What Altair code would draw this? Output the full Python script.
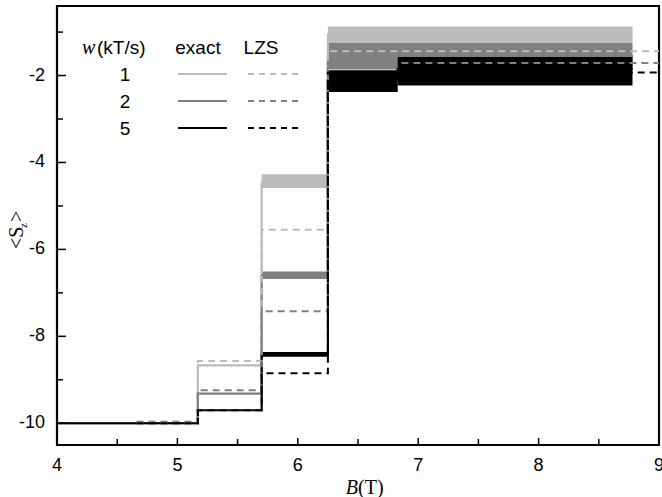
import altair as alt
import pandas as pd

# ---------------- data ----------------
series_w = ["1", "2", "5"]
series_colors = ["#bcbcbc", "#808080", "#000000"]

# exact (solid) step curves: vertices (B, <Sz>)
exact_B_1 = [4.00, 5.17, 5.17, 5.70, 5.70, 6.25, 6.25, 8.78]
exact_S_1 = [-10.0, -10.0, -8.67, -8.67, -4.45, -4.45, -1.06, -1.06]
exact_B_2 = [4.00, 5.17, 5.17, 5.70, 5.70, 6.25, 6.25, 8.78]
exact_S_2 = [-10.0, -10.0, -9.32, -9.32, -6.60, -6.60, -1.55, -1.55]
exact_B_5 = [4.00, 5.17, 5.17, 5.70, 5.70, 6.25, 6.25, 6.83, 6.83, 8.78]
exact_S_5 = [-10.0, -10.0, -9.70, -9.70, -8.42, -8.42, -2.10, -2.10, -1.85, -1.85]

# LZS (dashed) step curves
lzs_B_1 = [4.66, 5.17, 5.17, 5.70, 5.70, 6.25, 6.25, 9.00]
lzs_S_1 = [-9.96, -9.96, -8.57, -8.57, -5.55, -5.55, -1.44, -1.44]
lzs_B_2 = [4.66, 5.17, 5.17, 5.70, 5.70, 6.25, 6.25, 9.00]
lzs_S_2 = [-9.97, -9.97, -9.24, -9.24, -7.42, -7.42, -1.71, -1.71]
lzs_B_5 = [4.66, 5.17, 5.17, 5.70, 5.70, 6.25, 6.25, 9.00]
lzs_S_5 = [-10.0, -10.0, -9.70, -9.70, -8.85, -8.85, -1.93, -1.93]

# fluctuation bands of the exact curves (min / max)
band_w = ["1", "1", "2", "2", "5", "5", "5"]
band_B0 = [5.70, 6.25, 5.70, 6.25, 5.70, 6.25, 6.83]
band_B1 = [6.25, 8.78, 6.25, 8.78, 6.25, 6.83, 8.78]
band_lo = [-4.59, -1.25, -6.68, -1.86, -8.47, -2.38, -2.23]
band_hi = [-4.27, -0.87, -6.51, -1.25, -8.36, -1.88, -1.54]

x_major = [4, 5, 6, 7, 8, 9]
x_labels = ["4", "5", "6", "7", "8", "9"]
x_minor = [4.5, 5.5, 6.5, 7.5, 8.5]
y_major = [-10, -8, -6, -4, -2]
y_labels = ["-10", "-8", "-6", "-4", "-2"]
y_minor = [-9, -7, -5, -3, -1]

# ---------------- build tables ----------------
def long(Bs, Ss, w):
    return pd.DataFrame({"B": Bs, "S": Ss, "w": w, "i": list(range(len(Bs)))})

exact_df = pd.concat([long(exact_B_1, exact_S_1, "1"),
                      long(exact_B_2, exact_S_2, "2"),
                      long(exact_B_5, exact_S_5, "5")])
lzs_df = pd.concat([long(lzs_B_1, lzs_S_1, "1"),
                    long(lzs_B_2, lzs_S_2, "2"),
                    long(lzs_B_5, lzs_S_5, "5")])
band_df = pd.DataFrame({"w": band_w, "B0": band_B0, "B1": band_B1,
                        "lo": band_lo, "hi": band_hi})
xt_df = pd.DataFrame({"t": x_major, "lab": x_labels})
yt_df = pd.DataFrame({"t": y_major, "lab": y_labels})

W, H = 602, 439
xs = alt.Scale(domain=[4, 9], nice=False, zero=False)
ys = alt.Scale(domain=[-10.5, -0.4], nice=False, zero=False)
cs = alt.Scale(domain=series_w, range=series_colors)

FONT = "Liberation Sans"
SERIF = "Liberation Serif"

bands = alt.Chart(band_df).mark_rect(opacity=1).encode(
    x=alt.X("B0:Q", scale=xs, axis=None), x2="B1:Q",
    y=alt.Y("lo:Q", scale=ys, axis=None), y2="hi:Q",
    color=alt.Color("w:N", scale=cs, legend=None),
)

exact = alt.Chart(exact_df).mark_line(strokeWidth=2.2).encode(
    x=alt.X("B:Q", scale=xs, axis=None), y=alt.Y("S:Q", scale=ys, axis=None),
    color=alt.Color("w:N", scale=cs, legend=None),
    order="i:Q",
)

lzs = alt.Chart(lzs_df).mark_line(strokeWidth=2, strokeDash=[7, 5]).encode(
    x=alt.X("B:Q", scale=xs, axis=None), y=alt.Y("S:Q", scale=ys, axis=None),
    color=alt.Color("w:N", scale=cs, legend=None),
    order="i:Q",
)

# inward ticks
xt_major = alt.Chart(xt_df).mark_rule(color="#000", strokeWidth=1.5).encode(
    x=alt.X("t:Q", scale=xs, axis=None), y=alt.value(H), y2=alt.value(H - 7))
xt_minor = alt.Chart(pd.DataFrame({"t": x_minor})).mark_rule(color="#000", strokeWidth=1.5).encode(
    x=alt.X("t:Q", scale=xs, axis=None), y=alt.value(H), y2=alt.value(H - 6))
yt_major = alt.Chart(yt_df).mark_rule(color="#000", strokeWidth=1.5).encode(
    y=alt.Y("t:Q", scale=ys, axis=None), x=alt.value(0), x2=alt.value(9))
yt_minor = alt.Chart(pd.DataFrame({"t": y_minor})).mark_rule(color="#000", strokeWidth=1.5).encode(
    y=alt.Y("t:Q", scale=ys, axis=None), x=alt.value(0), x2=alt.value(6))

# tick labels
xlab = alt.Chart(xt_df).mark_text(font=FONT, fontSize=18, color="#000",
                                  align="center", baseline="middle").encode(
    x=alt.X("t:Q", scale=xs, axis=None), y=alt.value(H + 21), text="lab:N")
ylab = alt.Chart(yt_df).mark_text(font=FONT, fontSize=18, color="#000",
                                  align="right", baseline="middle").encode(
    y=alt.Y("t:Q", scale=ys, axis=None), x=alt.value(-12), text="lab:N")

one = pd.DataFrame({"a": [0]})

def txt(s, x, y, size=19, font=FONT, style="normal", align="left", baseline="middle", angle=0):
    kw = dict(text=s, font=font, fontSize=size, fontStyle=style, align=align,
              baseline=baseline, color="#000")
    if angle:
        kw["angle"] = angle
    return alt.Chart(one).mark_text(**kw).encode(x=alt.value(x), y=alt.value(y))

layers = [bands, exact, lzs, xt_major, xt_minor, yt_major, yt_minor, xlab, ylab]

# legend
layers += [
    txt("w", 25, 48, size=20, font=SERIF, style="italic", baseline="alphabetic"),
    txt("(kT/s)", 40, 48, size=19, baseline="alphabetic"),
    txt("exact", 141, 48, size=19, align="center", baseline="alphabetic"),
    txt("LZS", 204, 48, size=19, align="center", baseline="alphabetic"),
]
row_y = [68, 95, 122]
for wv, col, ry in zip(series_w, series_colors, row_y):
    layers.append(txt(wv, 68, ry + 7, size=19, align="center", baseline="alphabetic"))
    layers.append(alt.Chart(one).mark_rule(color=col, strokeWidth=2).encode(
        x=alt.value(121), x2=alt.value(170), y=alt.value(ry)))
    layers.append(alt.Chart(one).mark_rule(color=col, strokeWidth=2, strokeDash=[6, 5]).encode(
        x=alt.value(191), x2=alt.value(242), y=alt.value(ry)))

# axis titles
layers += [
    txt("B", 301, 488, size=20, font=SERIF, style="italic", align="right", baseline="alphabetic"),
    txt("(T)", 301, 488, size=20, font=SERIF, align="left", baseline="alphabetic"),
    txt("<S", -34, 243, size=20, font=SERIF, align="left", baseline="alphabetic", angle=270),
    txt("z", -30, 222, size=11, font=SERIF, align="left", baseline="alphabetic", angle=270),
    txt(">", -34, 216, size=20, font=SERIF, align="left", baseline="alphabetic", angle=270),
]

chart = alt.layer(*layers).properties(
    width=W, height=H,
    autosize=alt.AutoSizeParams(type="none"),
    padding={"left": 57, "top": 6, "right": 3, "bottom": 52},
    background="white",
).configure_view(stroke="#000", strokeWidth=2.2)

chart.save("out.html", embed_options={"renderer": "svg", "actions": False})
